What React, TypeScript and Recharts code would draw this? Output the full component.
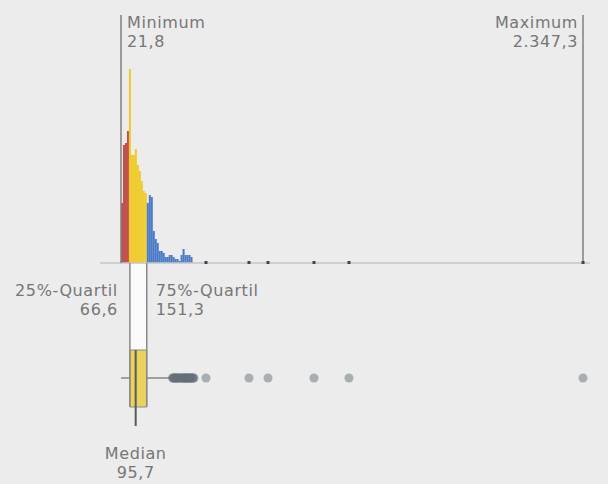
import React from 'react';
import {
  ComposedChart,
  Bar,
  Cell,
  XAxis,
  YAxis,
  Scatter,
  ReferenceLine,
  ReferenceArea,
} from 'recharts';

// ---- data ----
const BIN_START = 21.8;
const BIN_WIDTH = 10;
const binCounts = [
  30, 59, 60, 66, 97, 54, 54, 57, 49, 46, 41, 36, 35, 30, 34, 33, 16, 12, 10, 6,
  6, 5, 3, 3, 4, 4, 3, 2, 2, 1, 4, 7, 4, 4, 4, 3,
];

const MINIMUM = 21.8;
const Q1 = 66.6;
const MEDIAN = 95.7;
const Q3 = 151.3;
const MAXIMUM = 2347.3;
const WHISKER_HIGH = 276.0;

const outliers = [
  281, 284, 288, 291, 295, 298, 302, 306, 309, 313, 318, 322, 327, 331, 336,
  338, 341, 344, 347, 350, 354, 357, 360, 364, 368, 371, 375, 378, 382, 386,
  389, 449.6, 666.0, 761.6, 993.2, 1169.4, 2347.3,
];
const isolatedValues = [449.6, 666.0, 761.6, 993.2, 1169.4, 2347.3];

const labelMinimum = 'Minimum';
const labelMaximum = 'Maximum';
const labelQ1 = '25%-Quartil';
const labelQ3 = '75%-Quartil';
const labelMedian = 'Median';

// ---- styles / layout ----
const W = 608;
const H = 484;
const BG = '#ececec';
const RED = '#c2504d';
const YELLOW = '#efcb2c';
const BLUE = '#4a7bc8';
const TEXT = '#767676';
const FONT = '"DejaVu Sans", sans-serif';
const FS = 16;
const LINE_GAP = 19;
const BAR_PX = 2;

const BASE_Y = 263; // histogram baseline (layout px)
const BOX_TOP = 350;
const BOX_BOTTOM = 407;
const BOX_MID = 378;
const MEDIAN_END = 426;
const LINE_TOP = 15;

const fmt = (v: number) => {
  const [i, d] = v.toFixed(1).split('.');
  return i.replace(/\B(?=(\d{3})+(?!\d))/g, '.') + ',' + d;
};

const bins = binCounts.map((count, k) => {
  const center = BIN_START + BIN_WIDTH * k + BIN_WIDTH / 2;
  return { center, count };
});
const binColor = (c: number) => (c < Q1 ? RED : c <= Q3 ? YELLOW : BLUE);

const outlierPts = outliers.map((v) => ({ center: v, row: BOX_MID }));
const isolatedPts = isolatedValues.map((v) => ({ center: v, count: 0 }));

function twoLine(
  lines: string[],
  anchor: 'start' | 'end' | 'middle',
  dx: number,
  dy: number,
  fromBottom: boolean
) {
  return (props: any) => {
    const vb = props.viewBox || { x: 0, y: 0, width: 0, height: 0 };
    const x = vb.x + dx;
    const base = (fromBottom ? vb.y + vb.height : vb.y) + dy;
    return (
      <g>
        {lines.map((t, i) => (
          <text
            key={i}
            x={x}
            y={base + i * LINE_GAP}
            textAnchor={anchor}
            fontFamily={FONT}
            fontSize={FS}
            letterSpacing={0.6}
            fill={TEXT}
          >
            {t}
          </text>
        ))}
      </g>
    );
  };
}

const HistBar = (p: any) => {
  const cx = p.x + p.width / 2;
  return (
    <rect
      x={cx - BAR_PX / 2}
      y={p.y}
      width={BAR_PX}
      height={Math.max(0, p.height)}
      fill={p.fill}
    />
  );
};

export default function App() {
  return (
    <div
      style={{
        position: 'fixed',
        left: 0,
        top: 0,
        width: W,
        height: H,
        background: BG,
      }}
    >
      <ComposedChart
        width={W}
        height={H}
        data={bins}
        margin={{ top: 0, right: 18, bottom: 0, left: 100 }}
      >
        <XAxis
          type="number"
          dataKey="center"
          domain={[-83.9, 2382.5]}
          hide
          allowDataOverflow
        />
        <YAxis
          yAxisId="h"
          type="number"
          dataKey="count"
          domain={[-110.5, 131.5]}
          hide
          allowDataOverflow
        />
        <YAxis
          yAxisId="L"
          type="number"
          dataKey="row"
          domain={[0, H]}
          reversed
          hide
          allowDataOverflow
        />

        <ReferenceArea
          yAxisId="L"
          x1={Q1}
          x2={Q3}
          y1={BASE_Y}
          y2={BOX_TOP}
          fill="#fafafa"
          fillOpacity={1}
          stroke="none"
        />
        <ReferenceArea
          yAxisId="L"
          x1={Q1}
          x2={Q3}
          y1={BOX_TOP}
          y2={BOX_BOTTOM}
          fill="#e9d35e"
          fillOpacity={1}
          stroke="#8a8a8a"
          strokeWidth={1}
        />

        <ReferenceLine yAxisId="h" y={0} stroke="#c6c6c6" strokeWidth={1.5} />

        <Bar
          yAxisId="h"
          dataKey="count"
          barSize={BAR_PX}
          shape={HistBar}
          isAnimationActive={false}
        >
          {bins.map((b, i) => (
            <Cell key={i} fill={binColor(b.center)} />
          ))}
        </Bar>

        <ReferenceLine
          yAxisId="L"
          segment={[
            { x: MINIMUM, y: LINE_TOP },
            { x: MINIMUM, y: BASE_Y },
          ]}
          stroke="#808080"
          strokeWidth={1.5}
          label={twoLine([labelMinimum, fmt(MINIMUM)], 'start', 6, 13, false)}
        />
        <ReferenceLine
          yAxisId="L"
          segment={[
            { x: MAXIMUM, y: LINE_TOP },
            { x: MAXIMUM, y: BASE_Y },
          ]}
          stroke="#808080"
          strokeWidth={1.5}
          label={twoLine([labelMaximum, fmt(MAXIMUM)], 'end', -5, 13, false)}
        />
        <ReferenceLine
          yAxisId="L"
          segment={[
            { x: Q1, y: BASE_Y },
            { x: Q1, y: BOX_BOTTOM },
          ]}
          stroke="#888"
          strokeWidth={1.5}
          label={twoLine([labelQ1, fmt(Q1)], 'end', -12, 33, false)}
        />
        <ReferenceLine
          yAxisId="L"
          segment={[
            { x: Q3, y: BASE_Y },
            { x: Q3, y: BOX_BOTTOM },
          ]}
          stroke="#888"
          strokeWidth={1.5}
          label={twoLine([labelQ3, fmt(Q3)], 'start', 9, 33, false)}
        />
        <ReferenceLine
          yAxisId="L"
          segment={[
            { x: MINIMUM, y: BOX_MID },
            { x: Q1, y: BOX_MID },
          ]}
          stroke="#888"
          strokeWidth={1.5}
        />
        <ReferenceLine
          yAxisId="L"
          segment={[
            { x: Q3, y: BOX_MID },
            { x: WHISKER_HIGH, y: BOX_MID },
          ]}
          stroke="#888"
          strokeWidth={1.5}
        />
        <ReferenceLine
          yAxisId="L"
          segment={[
            { x: MEDIAN, y: BOX_TOP },
            { x: MEDIAN, y: MEDIAN_END },
          ]}
          stroke="#5a5a5a"
          strokeWidth={2}
          label={twoLine([labelMedian, fmt(MEDIAN)], 'middle', 0, 33, true)}
        />

        <Scatter
          yAxisId="L"
          data={outlierPts}
          dataKey="row"
          isAnimationActive={false}
          shape={(p: any) => (
            <circle
              cx={p.cx}
              cy={p.cy}
              r={4.5}
              fill="#66707a"
              fillOpacity={0.5}
            />
          )}
        />
        <Scatter
          yAxisId="h"
          data={isolatedPts}
          dataKey="count"
          isAnimationActive={false}
          shape={(p: any) => (
            <rect
              x={p.cx - 1.5}
              y={p.cy - 2}
              width={3}
              height={3}
              fill="#3c4650"
            />
          )}
        />
      </ComposedChart>
    </div>
  );
}
